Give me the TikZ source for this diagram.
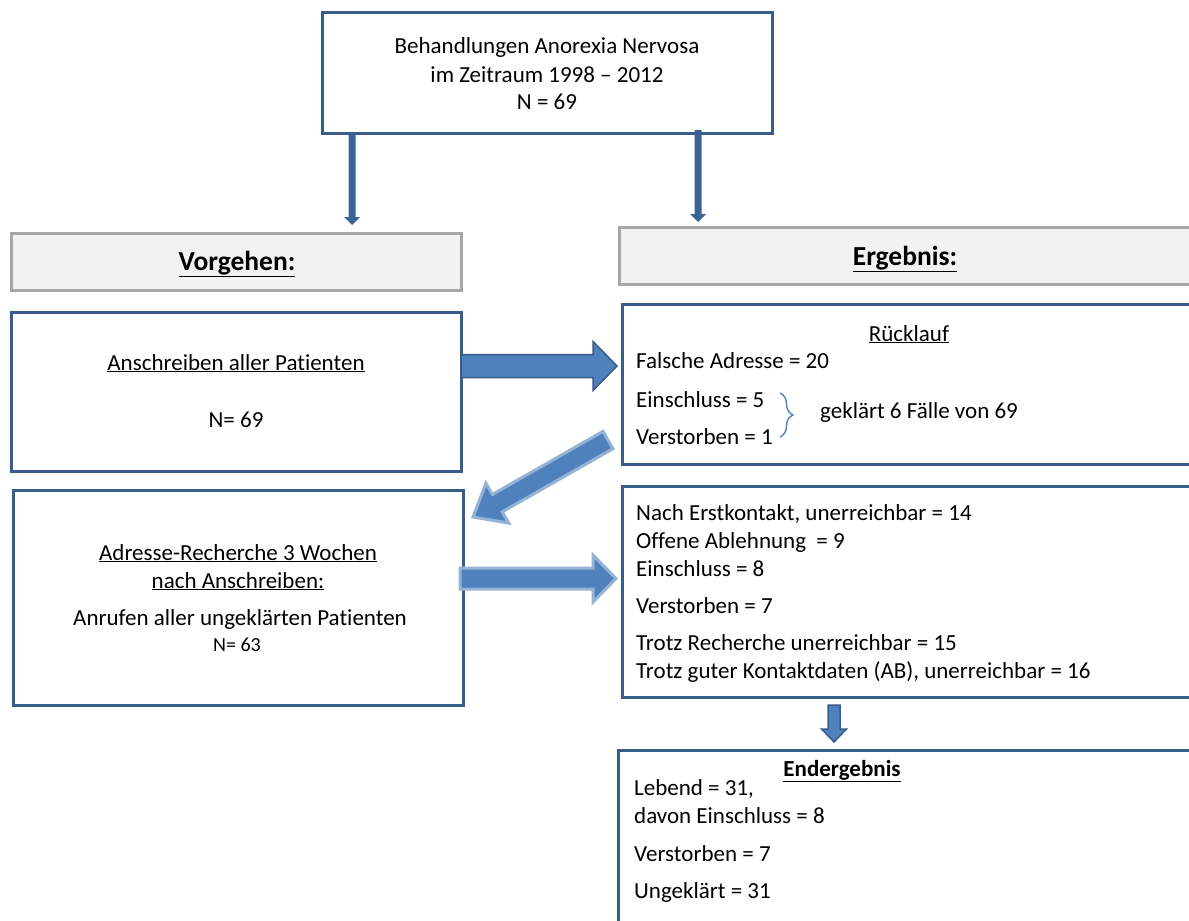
\documentclass[tikz,border=0pt]{standalone}
\usepackage{fontspec}
\setmainfont[Ligatures=NoCommon]{Carlito}
\usetikzlibrary{calc,decorations.pathreplacing}
\definecolor{boxblue}{RGB}{56,93,138}
\definecolor{arrfill}{RGB}{79,129,189}
\definecolor{arrline}{RGB}{56,93,138}
\definecolor{glow}{RGB}{149,179,215}
\definecolor{hdrfill}{RGB}{242,242,242}
\definecolor{hdrline}{RGB}{166,166,166}
\definecolor{darkarr}{RGB}{58,98,148}
\definecolor{bracecol}{RGB}{79,129,189}
\newcommand{\blkarrow}[6]{%
  \coordinate (bah) at ($(#3)!#6!(#2)$);
  \path[#1] ($(#2)!#4!90:(#3)$) -- ($(bah)!#4!90:(#3)$) -- ($(bah)!#5!90:(#3)$) -- (#3) -- ($(bah)!#5!-90:(#3)$) -- ($(bah)!#4!-90:(#3)$) -- ($(#2)!#4!-90:(#3)$) -- cycle;}
\tikzset{
  bluebox/.style={draw=boxblue, line width=3pt, rectangle, inner sep=0pt, fill=white},
  hdrbox/.style={draw=hdrline, fill=hdrfill, line width=3pt, rectangle, inner sep=0pt},
  txt/.style={inner sep=0pt, font=\fontsize{23}{28}\selectfont},
  small/.style={inner sep=0pt, font=\fontsize{20}{24}\selectfont},
  hdr/.style={inner sep=0pt, font=\fontsize{27.5}{32}\selectfont\bfseries},
  thinarrow/.style={fill=darkarr},
  bigarrow/.style={fill=arrfill, draw=arrline, line width=1.5pt, line join=miter},
  glowarrow/.style={fill=arrfill, draw=glow, line width=3pt, line join=miter},
  brace/.style={draw=bracecol, line width=1.4pt, decorate, decoration={brace, amplitude=13pt}},
}
\begin{document}
\begin{tikzpicture}[x=1pt, y=-1pt]
\useasboundingbox (0,0) rectangle (1189,921);
\clip (0,0) rectangle (1189,921);
\fill[white] (0,0) rectangle (1189,921);

% boxes
\node[bluebox, minimum width=450pt, minimum height=121pt] (top) at (547,72.5) {};
\node[hdrbox, minimum width=450pt, minimum height=57pt] (vorg) at (236,261.5) {};
\node[hdrbox, minimum width=591pt, minimum height=57pt] (erg) at (914.5,255.5) {};
\node[bluebox, minimum width=450pt, minimum height=159pt] (ansch) at (236,391.5) {};
\node[bluebox, minimum width=588pt, minimum height=160pt] (rueck) at (916,384) {};
\node[bluebox, minimum width=450pt, minimum height=215pt] (adr) at (238,597.5) {};
\node[bluebox, minimum width=588pt, minimum height=211pt] (res2) at (916,591.5) {};
\node[bluebox, minimum width=592pt, minimum height=190pt] (endb) at (914,845) {};

% top box text
\node[txt, anchor=base] (t1) at (547,53) {Behandlungen Anorexia Nervosa};
\node[txt, anchor=base] (t2) at (547,82) {im Zeitraum 1998 – 2012};
\node[txt, anchor=base] (t3) at (547,109) {N = 69};

% headers
\node[hdr, anchor=base] (vorgt) at (237,270) {\underline{Vorgehen:}};
\node[hdr, anchor=base] (ergt) at (905,265) {\underline{Ergebnis:}};

% left boxes
\node[txt, anchor=base] (a1) at (236,370) {\underline{Anschreiben aller Patienten}};
\node[txt, anchor=base] (a2) at (236,427) {N= 69};
\node[txt, anchor=base] (b1) at (238,560) {\underline{Adresse-Recherche 3 Wochen}};
\node[txt, anchor=base] (b2) at (238,588) {\underline{nach Anschreiben:}};
\node[txt, anchor=base] (b3) at (240,625) {Anrufen aller ungeklärten Patienten};
\node[small, anchor=base] (b4) at (237,651) {N= 63};

% Ruecklauf
\node[txt, anchor=base] (r0) at (909,341) {\underline{Rücklauf}};
\node[txt, anchor=base west] (r1) at (636,368) {Falsche Adresse = 20};
\node[txt, anchor=base west] (r2) at (636,407) {Einschluss = 5};
\node[txt, anchor=base west] (r3) at (636,444) {Verstorben = 1};
\node[txt, anchor=base west] (r4) at (820,418) {geklärt 6 Fälle von 69};
\coordinate (br1) at (780,393);
\coordinate (br2) at (780,437);
\draw[brace] (br1) -- (br2);

% second result box
\node[txt, anchor=base west] (s1) at (636,520) {Nach Erstkontakt, unerreichbar = 14};
\node[txt, anchor=base west] (s2) at (636,548) {Offene Ablehnung~~= 9};
\node[txt, anchor=base west] (s3) at (636,576) {Einschluss = 8};
\node[txt, anchor=base west] (s4) at (636,613) {Verstorben = 7};
\node[txt, anchor=base west] (s5) at (636,650) {Trotz Recherche unerreichbar = 15};
\node[txt, anchor=base west] (s6) at (636,678) {Trotz guter Kontaktdaten (AB), unerreichbar = 16};

% Endergebnis
\node[txt, anchor=base] (e0) at (842,776) {\bfseries\underline{Endergebnis}};
\node[txt, anchor=base west] (e1) at (634,795) {Lebend = 31,};
\node[txt, anchor=base west] (e2) at (634,823) {davon Einschluss = 8};
\node[txt, anchor=base west] (e3) at (634,861) {Verstorben = 7};
\node[txt, anchor=base west] (e4) at (634,898) {Ungeklärt = 31};

% arrows
\coordinate (d1s) at (352,133);
\coordinate (d1e) at (352,225);
\blkarrow{thinarrow}{d1s}{d1e}{3.5pt}{8pt}{8pt}
\coordinate (d2s) at (698,130);
\coordinate (d2e) at (698,222);
\blkarrow{thinarrow}{d2s}{d2e}{3.5pt}{8pt}{8pt}

\coordinate (h1s) at (461,366);
\coordinate (h1e) at (617,366);
\blkarrow{bigarrow}{h1s}{h1e}{11.5pt}{24.5pt}{24pt}

\coordinate (g1s) at (608,440);
\coordinate (g1e) at (473,517);
\blkarrow{glowarrow}{g1s}{g1e}{10pt}{23pt}{28pt}

\coordinate (h2s) at (460,578.5);
\coordinate (h2e) at (616,578.5);
\blkarrow{glowarrow}{h2s}{h2e}{10.5pt}{23.5pt}{23pt}

\coordinate (v1s) at (834,705);
\coordinate (v1e) at (834,742);
\blkarrow{bigarrow}{v1s}{v1e}{6pt}{12.5pt}{13pt}
\end{tikzpicture}
\end{document}
